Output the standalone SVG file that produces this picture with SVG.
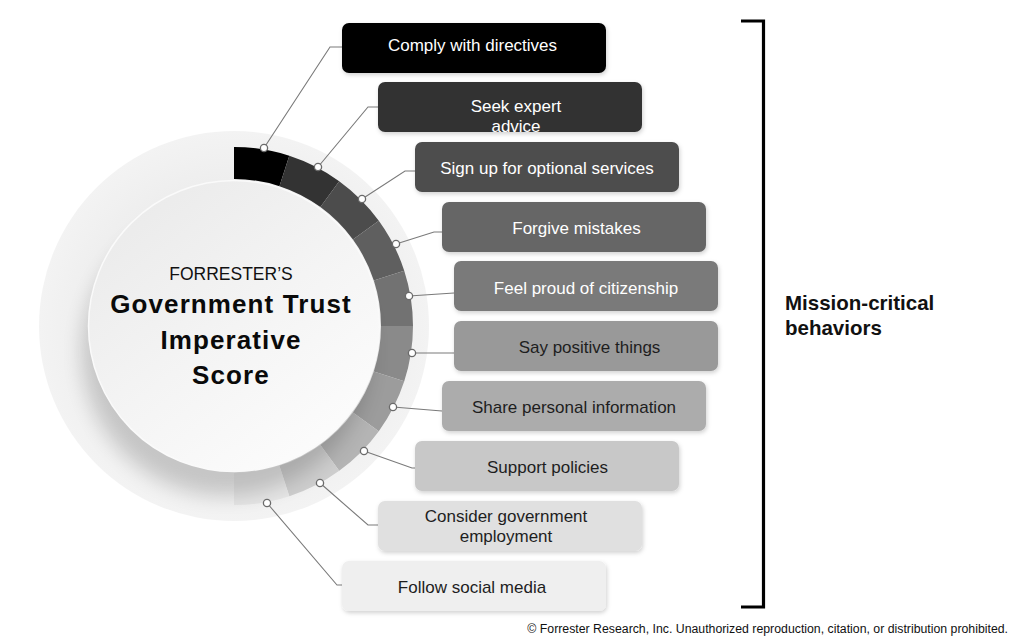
<svg xmlns="http://www.w3.org/2000/svg" width="1024" height="638" viewBox="0 0 1024 638">
<defs>
<style>
.lbl{font-family:"Liberation Sans",Arial,sans-serif;font-size:17px;text-anchor:middle}
.lt{fill:#ffffff}
.dk{fill:#1e1e1e}
.box{filter:url(#bsh)}
.con{fill:none;stroke:#7a7a7a;stroke-width:1.1}
.dot{fill:#ffffff;stroke:#6a6a6a;stroke-width:1.3}
.ttl{font-family:"Liberation Sans",Arial,sans-serif;font-weight:700;font-size:26px;letter-spacing:1.1px;text-anchor:middle;fill:#0a0a0a}
</style>
<filter id="bsh" x="-10%" y="-20%" width="120%" height="150%">
<feDropShadow dx="1" dy="2" stdDeviation="2" flood-color="#000" flood-opacity="0.18"/>
</filter>
<filter id="blur" x="-30%" y="-30%" width="160%" height="160%">
<feGaussianBlur stdDeviation="10"/>
</filter>
<clipPath id="pale"><circle cx="234" cy="326" r="195"/></clipPath>
<radialGradient id="paleG" cx="0.5" cy="0.5" r="0.5">
<stop offset="0.75" stop-color="#eeeeee"/>
<stop offset="1" stop-color="#f3f3f3"/>
</radialGradient>
<linearGradient id="faceG" x1="0.15" y1="0.1" x2="0.8" y2="0.95">
<stop offset="0" stop-color="#ebebeb"/>
<stop offset="0.5" stop-color="#f4f4f4"/>
<stop offset="1" stop-color="#fcfcfc"/>
</linearGradient>
</defs>

<rect width="1024" height="638" fill="#ffffff"/>

<g id="score-dial">
<circle cx="234" cy="326" r="195" fill="url(#paleG)"/>
<g id="ring">
<path d="M234,147 A179,179 0 0 1 289.31,155.76 L279.43,186.19 A147,147 0 0 0 234,179 Z" fill="#000000"/>
<path d="M289.31,155.76 A179,179 0 0 1 339.21,181.19 L320.41,207.07 A147,147 0 0 0 279.43,186.19 Z" fill="#333333"/>
<path d="M339.21,181.19 A179,179 0 0 1 378.81,220.79 L352.93,239.59 A147,147 0 0 0 320.41,207.07 Z" fill="#4c4c4c"/>
<path d="M378.81,220.79 A179,179 0 0 1 404.24,270.69 L373.81,280.57 A147,147 0 0 0 352.93,239.59 Z" fill="#5f5f5f"/>
<path d="M404.24,270.69 A179,179 0 0 1 413,326 L381,326 A147,147 0 0 0 373.81,280.57 Z" fill="#727272"/>
<path d="M413,326 A179,179 0 0 1 404.24,381.31 L373.81,371.43 A147,147 0 0 0 381,326 Z" fill="#8a8a8a"/>
<path d="M404.24,381.31 A179,179 0 0 1 378.81,431.21 L352.93,412.41 A147,147 0 0 0 373.81,371.43 Z" fill="#9c9c9c"/>
<path d="M378.81,431.21 A179,179 0 0 1 339.21,470.81 L320.41,444.93 A147,147 0 0 0 352.93,412.41 Z" fill="#b4b4b4"/>
<path d="M339.21,470.81 A179,179 0 0 1 289.31,496.24 L279.43,465.81 A147,147 0 0 0 320.41,444.93 Z" fill="#cecece"/>
<path d="M289.31,496.24 A179,179 0 0 1 234,505 L234,473 A147,147 0 0 0 279.43,465.81 Z" fill="#e6e6e6"/>
</g>
<g clip-path="url(#pale)">
<circle cx="226" cy="352" r="144" fill="#000000" opacity="0.17" filter="url(#blur)"/>
</g>
</g>

<g id="center">
<circle cx="234" cy="326" r="145.5" fill="url(#faceG)" stroke="#fafafa" stroke-width="1.5"/>
<text x="231" y="279.5" style="font-family:'Liberation Sans',Arial,sans-serif;font-size:17.5px;text-anchor:middle;fill:#111">FORRESTER’S</text>
<text class="ttl" x="231" y="313">Government Trust</text>
<text class="ttl" x="231" y="348.5">Imperative</text>
<text class="ttl" x="231" y="383.5">Score</text>
</g>

<g id="connectors">
<polyline class="con" points="264,148 330,47 342,47"/>
<polyline class="con" points="318,167 368,107 378,107"/>
<polyline class="con" points="362,199 405,171 415,171"/>
<polyline class="con" points="396,244 434,232 442,232"/>
<polyline class="con" points="409,296 454,293"/>
<polyline class="con" points="412,353 454,353"/>
<polyline class="con" points="393,407 442,411"/>
<polyline class="con" points="364,451 412,468 415,468"/>
<polyline class="con" points="320,483 368,525 378,525"/>
<polyline class="con" points="267,503 337,585 342,585"/>
<circle class="dot" cx="264" cy="148" r="3.6"/>
<circle class="dot" cx="318" cy="167" r="3.6"/>
<circle class="dot" cx="362" cy="199" r="3.6"/>
<circle class="dot" cx="396" cy="244" r="3.6"/>
<circle class="dot" cx="409" cy="296" r="3.6"/>
<circle class="dot" cx="412" cy="353" r="3.6"/>
<circle class="dot" cx="393" cy="407" r="3.6"/>
<circle class="dot" cx="364" cy="451" r="3.6"/>
<circle class="dot" cx="320" cy="483" r="3.6"/>
<circle class="dot" cx="267" cy="503" r="3.6"/>
</g>

<g id="b1-comply"><rect class="box" x="342" y="23" width="264" height="50" rx="7" fill="#000000"/><text class="lbl lt" x="472.5" y="50.7">Comply with directives</text></g>
<g id="b2-seek"><rect class="box" x="378" y="82" width="264" height="50" rx="7" fill="#333333"/><text class="lbl lt" x="516" y="112">Seek expert</text><text class="lbl lt" x="516" y="132">advice</text></g>
<g id="b3-signup"><rect class="box" x="415" y="142" width="264" height="50" rx="7" fill="#4d4d4d"/><text class="lbl lt" x="547" y="174">Sign up for optional services</text></g>
<g id="b4-forgive"><rect class="box" x="442" y="202" width="264" height="50" rx="7" fill="#666666"/><text class="lbl lt" x="576.5" y="233.5">Forgive mistakes</text></g>
<g id="b5-proud"><rect class="box" x="454" y="261" width="264" height="50" rx="7" fill="#7a7a7a"/><text class="lbl lt" x="586" y="294">Feel proud of citizenship</text></g>
<g id="b6-positive"><rect class="box" x="454" y="321" width="264" height="50" rx="7" fill="#999999"/><text class="lbl dk" x="589.5" y="352.5">Say positive things</text></g>
<g id="b7-share"><rect class="box" x="442" y="381" width="264" height="50" rx="7" fill="#acacac"/><text class="lbl dk" x="574" y="412.7">Share personal information</text></g>
<g id="b8-support"><rect class="box" x="415" y="441" width="264" height="50" rx="7" fill="#c8c8c8"/><text class="lbl dk" x="547.5" y="472.5">Support policies</text></g>
<g id="b9-consider"><rect class="box" x="378" y="501" width="264" height="50" rx="7" fill="#e0e0e0"/><text class="lbl dk" x="506" y="522">Consider government</text><text class="lbl dk" x="506" y="542">employment</text></g>
<g id="b10-follow"><rect class="box" x="342" y="561" width="264" height="50" rx="7" fill="#efefef"/><text class="lbl dk" x="472" y="592.5">Follow social media</text></g>

<g id="bracket">
<path d="M741,21 H763.5 V607 H741" fill="none" stroke="#000000" stroke-width="3.2"/>
<text x="785" y="310" style="font-family:'Liberation Sans',Arial,sans-serif;font-weight:700;font-size:20.5px;fill:#111">Mission-critical</text>
<text x="785" y="335" style="font-family:'Liberation Sans',Arial,sans-serif;font-weight:700;font-size:20.5px;fill:#111">behaviors</text>
</g>

<text id="footer" x="1008" y="633.3" style="font-family:'Liberation Sans',Arial,sans-serif;font-size:12.3px;text-anchor:end;fill:#111">© Forrester Research, Inc. Unauthorized reproduction, citation, or distribution prohibited.</text>
</svg>
